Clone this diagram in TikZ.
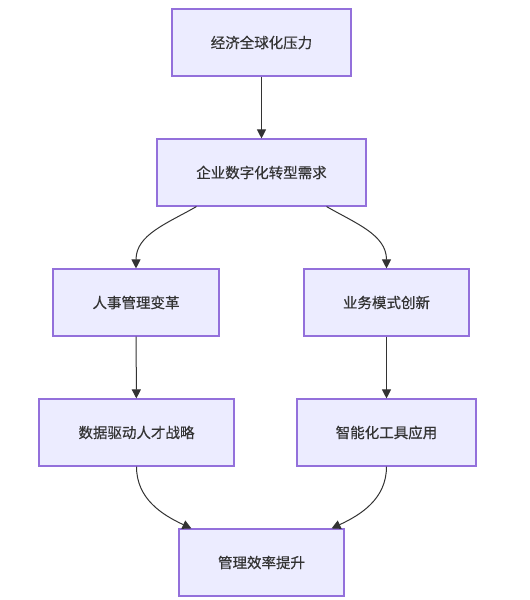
\documentclass[tikz,border=0pt]{standalone}
\usepackage{fontspec}
\setmainfont{Noto Sans CJK SC}[BoldFont={Noto Sans CJK SC}, BoldFeatures={FakeBold=0.5}]
\usetikzlibrary{arrows.meta, calc}
\definecolor{riempimento}{HTML}{ECECFF}
\definecolor{contorno}{HTML}{9370DB}
\definecolor{scuro}{HTML}{333333}

\begin{document}
\begin{tikzpicture}[
  x=1pt, y=-1pt,
  font=\fontsize{14.5}{17}\selectfont\bfseries,
  scatola/.style={draw=contorno, fill=riempimento, line width=1.1pt, text=scuro, minimum height=67pt, inner sep=0pt},
  freccia/.style={draw=scuro, line width=1pt, -{Triangle[length=9pt,width=9pt]}}
]
\useasboundingbox (0,0) rectangle (530,600);

%==============================================================
% Nodi
%==============================================================
% nome / x / y / larghezza / testo
\foreach \nome/\x/\y/\w/\testo in {%
  pressione/261.5/42.5/179/{经济全球化压力},
  domanda/261.5/172.5/209/{企业数字化转型需求},
  risorse/136/302.5/166/{人事管理变革},
  innovazione/386.5/302.5/165/{业务模式创新},
  dati/136.5/432.5/195/{数据驱动人才战略},
  strumenti/386.5/432.5/179/{智能化工具应用},
  efficienza/261.5/562.5/165/{管理效率提升}} {
  \node[scatola, minimum width=\w pt] (\nome) at (\x,\y) {\testo};
}

%==============================================================
% Frecce
%==============================================================
\draw[freccia] (pressione) -- (domanda);
\draw[freccia] ([xshift=40pt]domanda.south west) to[out=-150,in=90] (risorse.north);
\draw[freccia] ([xshift=-40pt]domanda.south east) to[out=-30,in=90] (innovazione.north);
\draw[freccia] (risorse) -- (dati);
\draw[freccia] (innovazione) -- (strumenti);
\draw[freccia] (dati.south) to[out=-90,in=155] ([xshift=13pt]efficienza.north west);
\draw[freccia] (strumenti.south) to[out=-90,in=25] ([xshift=-13pt]efficienza.north east);

\end{tikzpicture}
\end{document}
